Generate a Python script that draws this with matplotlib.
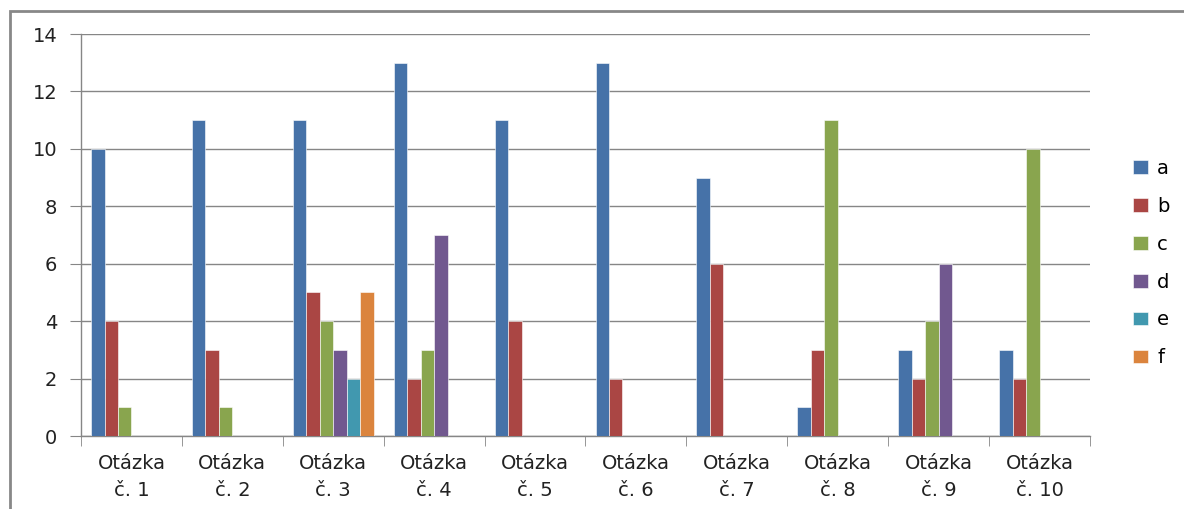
import numpy as np
import matplotlib.pyplot as plt
from matplotlib.patches import Rectangle

# -----------------------------
# Data
# -----------------------------
categories = [f"Otázka\nč. {i}" for i in range(1, 11)]
series_names = ["a", "b", "c", "d", "e", "f"]
a_vals = [10, 11, 11, 13, 11, 13, 9, 1, 3, 3]
b_vals = [4, 3, 5, 2, 4, 2, 6, 3, 2, 2]
c_vals = [1, 1, 4, 3, 0, 0, 0, 11, 4, 10]
d_vals = [0, 0, 3, 7, 0, 0, 0, 0, 6, 0]
e_vals = [0, 0, 2, 0, 0, 0, 0, 0, 0, 0]
f_vals = [0, 0, 5, 0, 0, 0, 0, 0, 0, 0]
y_ticks = [0, 2, 4, 6, 8, 10, 12, 14]

colors = ["#4672A8", "#AA4644", "#89A54E", "#71588F", "#4198AF", "#DB843D"]

plt.rcParams["font.family"] = ["DejaVu Sans"]

fig = plt.figure(figsize=(11.84, 5.09), dpi=100)
ax = fig.add_axes([0.0684, 0.1434, 0.8522, 0.7898])

x = np.arange(len(categories))
w = 1 / 7.5
all_vals = [a_vals, b_vals, c_vals, d_vals, e_vals, f_vals]
for j, (name, vals) in enumerate(zip(series_names, all_vals)):
    ax.bar(x + (j - 2.5) * w, vals, width=w, color=colors[j], label=name,
           edgecolor="white", linewidth=0.4, zorder=3)

ax.set_xlim(-0.5, 9.5)
ax.set_ylim(0, 14)
ax.set_yticks(y_ticks)
ax.set_xticks(x)
ax.set_xticklabels(categories, fontsize=14, color="#222222", linespacing=1.5)
ax.set_xticks(np.arange(-0.5, 10, 1), minor=True)
ax.tick_params(axis="x", which="major", length=0, pad=13)
ax.tick_params(axis="x", which="minor", length=7, color="#868686", direction="out")
ax.tick_params(axis="y", length=8, color="#868686", labelsize=14,
               labelcolor="#222222", pad=9)

ax.grid(axis="y", color="#868686", linewidth=1, zorder=0)
ax.set_axisbelow(True)
for side in ["top", "right"]:
    ax.spines[side].set_visible(False)
for side in ["left", "bottom"]:
    ax.spines[side].set_color("#868686")
    ax.spines[side].set_linewidth(1)

fig.legend(loc="center left", bbox_to_anchor=(0.942, 0.483), frameon=False,
           fontsize=14, handlelength=0.8, handleheight=0.7,
           handletextpad=0.45, labelspacing=0.97)

# outer chart border
fig.patches.append(Rectangle((10 / 1184, -0.1), 1.1, 1 - 11 / 509 + 0.1,
                             transform=fig.transFigure, fill=False,
                             edgecolor="#888888", linewidth=2))

fig.savefig("out.png", dpi=100)
